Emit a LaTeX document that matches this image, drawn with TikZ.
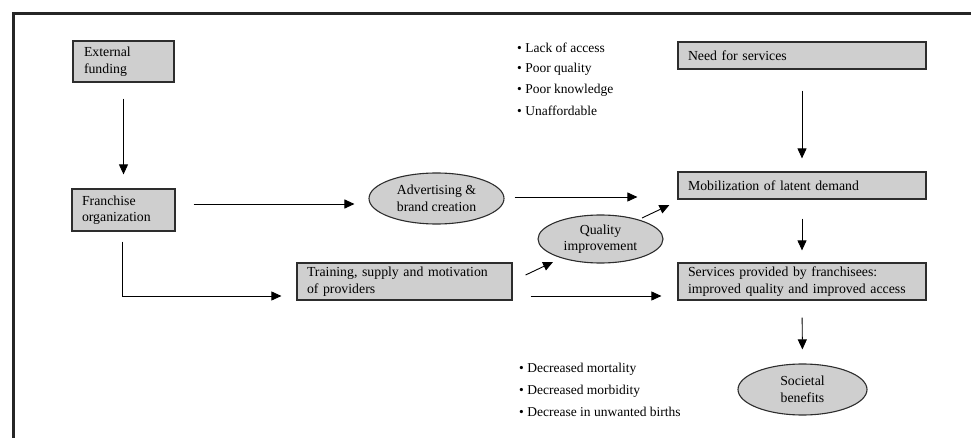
\documentclass[tikz,border=0pt]{standalone}
\usepackage{fontspec}
\setmainfont{Liberation Serif}
\usetikzlibrary{arrows.meta,calc,shapes.geometric}
\definecolor{boxgray}{RGB}{207,207,207}
\definecolor{edgegray}{RGB}{45,45,45}
\begin{document}
\begin{tikzpicture}[x=1pt,y=-1pt,
  boxnode/.style={draw=edgegray,fill=boxgray,line width=1.2pt,rectangle,inner sep=0pt,
     font=\fontsize{13.8}{16.5}\selectfont,align=left},
  ovalnode/.style={draw=edgegray,fill=boxgray,line width=1.1pt,ellipse,inner sep=0pt,
     font=\fontsize{13.8}{16.5}\selectfont,align=center},
  bullettext/.style={anchor=west,inner sep=0pt,font=\fontsize{13.5}{16}\selectfont},
  arr/.style={-{Triangle[length=10pt,width=9pt]},line width=0.9pt,black},
  plain/.style={line width=0.9pt,black}]
\useasboundingbox (0,0) rectangle (971,438);
\draw[line width=3pt,black!85] (971,14) -- (13,14) -- (13,438);

\node[boxnode,minimum width=101pt,minimum height=41pt,text width=79pt] (ext) at (123.5,61.5) {External\\funding};
\node[boxnode,minimum width=103pt,minimum height=42pt,text width=83pt] (fr) at (123.5,210) {Franchise\\organization};
\node[boxnode,minimum width=215pt,minimum height=37pt,text width=195pt] (tr) at (404.5,281.5) {Training, supply and motivation\\of providers};
\node[boxnode,minimum width=248pt,minimum height=27pt,text width=228pt] (need) at (802,55.5) {Need for services};
\node[boxnode,minimum width=248pt,minimum height=27pt,text width=228pt] (mob) at (802,185.5) {Mobilization of latent demand};
\node[boxnode,minimum width=248pt,minimum height=37pt,text width=228pt] (serv) at (802,281.5) {Services provided by franchisees:\\improved quality and improved access};

\node[ovalnode,minimum width=135pt,minimum height=51pt] (adv) at (436.5,198.5) {Advertising \&\\brand creation};
\node[ovalnode,minimum width=125pt,minimum height=48pt] (qual) at (600.5,239) {Quality\\improvement};
\node[ovalnode,minimum width=129pt,minimum height=51pt] (soc) at (802.5,389.5) {Societal\\benefits};

\node[bullettext] (b1) at (517,48) {\textbullet\ Lack of access};
\node[bullettext] (b2) at (517,69) {\textbullet\ Poor quality};
\node[bullettext] (b3) at (517,90) {\textbullet\ Poor knowledge};
\node[bullettext] (b4) at (517,111) {\textbullet\ Unaffordable};
\node[bullettext] (b5) at (519,369) {\textbullet\ Decreased mortality};
\node[bullettext] (b6) at (519,391) {\textbullet\ Decreased morbidity};
\node[bullettext] (b7) at (519,412) {\textbullet\ Decrease in unwanted births};

\draw[arr,shorten <=16pt,shorten >=14pt] (ext.south) -- (fr.north);
\draw[arr] ($(fr.east)+(18,-6)$) -- ($(adv.west)+(-14,5.5)$);
\draw[arr] ($(fr.south)+(-1.5,10)$) |- ($(tr.west)+(-15,14.5)$);
\draw[arr] ($(adv.east)+(10,-1.5)$) -- ($(mob.west)+(-40,11.5)$);
\draw[arr] ($(qual.center)+(41.5,-21)$) -- ($(mob.west)+(-8,19.5)$);
\draw[arr] ($(tr.east)+(13,-6.5)$) -- ($(qual.center)+(-47.5,23)$);
\draw[arr] ($(tr.east)+(18,14.5)$) -- ($(serv.west)+(-16,14.5)$);
\draw[arr,shorten <=21pt,shorten >=13pt] (need.south) -- (mob.north);
\draw[arr,shorten <=19pt,shorten >=12pt] (mob.south) -- (serv.north);
\draw[arr,shorten <=17pt,shorten >=14pt] (serv.south) -- (soc.north);
\end{tikzpicture}
\end{document}
